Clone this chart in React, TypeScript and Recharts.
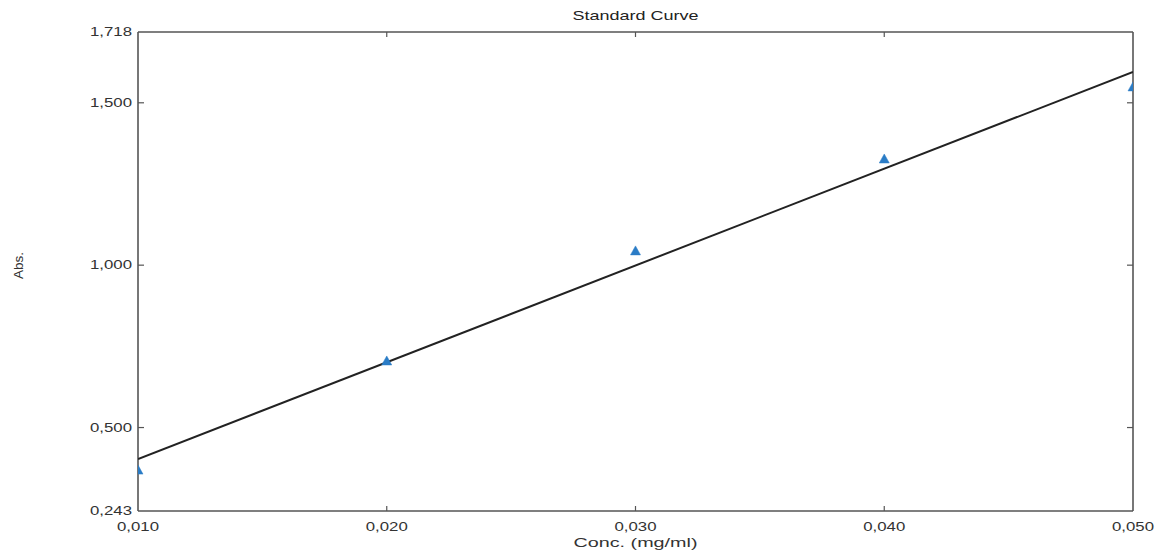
import React from 'react';
import { ComposedChart, Scatter, XAxis, YAxis, Label } from 'recharts';

const concValues = [0.01, 0.02, 0.03, 0.04, 0.05];
const absValues = [0.369, 0.705, 1.044, 1.327, 1.549];
const fitConc = [0.01, 0.05];
const fitAbs = [0.403, 1.595];
const xTicks = [0.01, 0.02, 0.03, 0.04, 0.05];
const yTicks = [0.243, 0.5, 1.0, 1.5, 1.718];
const xDomain = [0.01, 0.05];
const yDomain = [0.243, 1.718];

const points = concValues.map((c, i) => ({ x: c, y: absValues[i] }));
const fitLine = fitConc.map((c, i) => ({ x: c, y: fitAbs[i] }));

const FONT = '"Liberation Sans", Arial, sans-serif';
const AXIS = '#555';
const TXT = '#333';
const fmt = (v: number) => v.toFixed(3).replace('.', ',');
const isEnd = (v: number, arr: number[]) =>
  Math.abs(v - arr[0]) < 1e-9 || Math.abs(v - arr[arr.length - 1]) < 1e-9;

const BottomTick = (p: any) => {
  const { x, y, payload } = p;
  const v = payload.value;
  return (
    <g>
      {!isEnd(v, xTicks) && <line x1={x} x2={x} y1={y} y2={y - 5} stroke={AXIS} strokeWidth={1.2} />}
      <text x={x} y={y + 16} textAnchor="middle" dominantBaseline="central" fontFamily={FONT} fontSize={12.5}
        textLength={42} lengthAdjust="spacingAndGlyphs" fill={TXT}>
        {fmt(v)}
      </text>
    </g>
  );
};

const TopTick = (p: any) => {
  const { x, y, payload } = p;
  const v = payload.value;
  if (isEnd(v, xTicks)) return <g />;
  return <line x1={x} x2={x} y1={y} y2={y + 5} stroke={AXIS} strokeWidth={1.2} />;
};

const LeftTick = (p: any) => {
  const { x, y, payload } = p;
  const v = payload.value;
  return (
    <g>
      {!isEnd(v, yTicks) && <line x1={x} x2={x + 6} y1={y} y2={y} stroke={AXIS} strokeWidth={1.2} />}
      <text x={x - 6} y={y} textAnchor="end" dominantBaseline="central" fontFamily={FONT} fontSize={12.5}
        textLength={42} lengthAdjust="spacingAndGlyphs" fill={TXT}>
        {fmt(v)}
      </text>
    </g>
  );
};

const RightTick = (p: any) => {
  const { x, y, payload } = p;
  const v = payload.value;
  if (isEnd(v, yTicks)) return <g />;
  return <line x1={x} x2={x - 6} y1={y} y2={y} stroke={AXIS} strokeWidth={1.2} />;
};

const Triangle = (p: any) => {
  const { cx, cy } = p;
  if (cx == null || cy == null) return <g />;
  return (
    <polygon
      points={`${cx},${cy - 5} ${cx - 5},${cy + 4} ${cx + 5},${cy + 4}`}
      fill="#2a7cc6"
      stroke="#2a7cc6"
      strokeWidth={0.5}
    />
  );
};

const NoShape = () => <g />;

const TitleLabel = (p: any) => {
  const vb = p.viewBox || {};
  return (
    <text x={vb.x + vb.width / 2} y={7} textAnchor="middle" dominantBaseline="central" fontFamily={FONT} fontSize={13.5}
      textLength={126} lengthAdjust="spacingAndGlyphs" fill="#222">
      Standard Curve
    </text>
  );
};

const XTitle = (p: any) => {
  const vb = p.viewBox || {};
  return (
    <text x={vb.x + vb.width / 2} y={vb.y + 31} textAnchor="middle" dominantBaseline="central" fontFamily={FONT} fontSize={13}
      textLength={124} lengthAdjust="spacingAndGlyphs" fill={TXT}>
      Conc. (mg/ml)
    </text>
  );
};

const YTitle = (p: any) => {
  const vb = p.viewBox || {};
  const cy = vb.y + vb.height / 2 - 6;
  return (
    <text x={10} y={cy} transform={`rotate(-90, 10, ${cy})`} textAnchor="middle" dominantBaseline="central" fontFamily={FONT} fontSize={13}
      textLength={27} lengthAdjust="spacingAndGlyphs" fill={TXT}>
      Abs.
    </text>
  );
};

export default function App() {
  return (
    <div style={{ width: 1156, height: 549, background: '#fff' }}>
      <ComposedChart width={1156} height={549} margin={{ top: 23, right: 30, bottom: 0, left: 0 }}>
        <XAxis
          xAxisId="bottom"
          type="number"
          dataKey="x"
          orientation="bottom"
          domain={xDomain}
          ticks={xTicks}
          allowDataOverflow
          height={46}
          tickSize={0}
          tickMargin={0}
          tickLine={false}
          axisLine={{ stroke: AXIS, strokeWidth: 1.6 }}
          tick={BottomTick}
          interval={0}
        >
          <Label content={XTitle} />
        </XAxis>
        <XAxis
          xAxisId="top"
          type="number"
          dataKey="x"
          orientation="top"
          domain={xDomain}
          ticks={xTicks}
          allowDataOverflow
          height={1}
          tickSize={0}
          tickMargin={0}
          tickLine={false}
          axisLine={{ stroke: AXIS, strokeWidth: 1.6 }}
          tick={TopTick}
          interval={0}
        >
          <Label content={TitleLabel} />
        </XAxis>
        <YAxis
          yAxisId="left"
          type="number"
          dataKey="y"
          orientation="left"
          domain={yDomain}
          ticks={yTicks}
          allowDataOverflow
          width={130}
          tickSize={0}
          tickMargin={0}
          tickLine={false}
          axisLine={{ stroke: AXIS, strokeWidth: 1.6 }}
          tick={LeftTick}
          interval={0}
        >
          <Label content={YTitle} />
        </YAxis>
        <YAxis
          yAxisId="right"
          type="number"
          dataKey="y"
          orientation="right"
          domain={yDomain}
          ticks={yTicks}
          allowDataOverflow
          width={1}
          tickSize={0}
          tickMargin={0}
          tickLine={false}
          axisLine={{ stroke: AXIS, strokeWidth: 1.6 }}
          tick={RightTick}
          interval={0}
        />
        <Scatter
          data={fitLine}
          xAxisId="top"
          yAxisId="right"
          line={{ stroke: '#222', strokeWidth: 2 }}
          shape={NoShape}
          isAnimationActive={false}
          legendType="none"
        />
        <Scatter
          data={points}
          xAxisId="bottom"
          yAxisId="left"
          shape={Triangle}
          isAnimationActive={false}
          legendType="none"
        />
      </ComposedChart>
    </div>
  );
}
